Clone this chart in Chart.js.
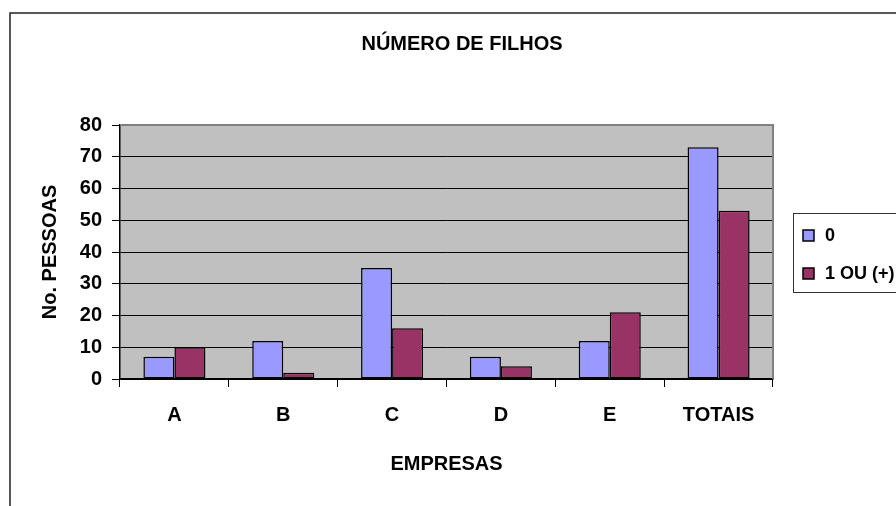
<!DOCTYPE html>
<html>
<head>
<meta charset="utf-8">
<script src="https://cdn.jsdelivr.net/npm/chart.js@4"></script>
<style>
  html, body { margin: 0; padding: 0; background: #fff; }
  #wrap { width: 896px; height: 506px; }
</style>
</head>
<body>
<div id="wrap"><canvas id="myChart" width="896" height="506"></canvas></div>
<script>
const categories = ['A', 'B', 'C', 'D', 'E', 'TOTAIS'];
const semFilhos = [7, 12, 35, 7, 12, 73];       // "0"
const comFilhos = [10, 2, 16, 4, 21, 53];       // "1 OU (+)"
const seriesNames = ['0', '1 OU (+)'];
const chartTitle = 'NÚMERO DE FILHOS';
const yTitle = 'No. PESSOAS';
const xTitle = 'EMPRESAS';
const yMin = 0, yMax = 80, yStep = 10;

const FONT = '"Liberation Sans Narrow", "Liberation Sans", Arial, sans-serif';

// plot background, frame, title and legend drawn around the chart
const excelLook = {
    id: 'excelLook',
    beforeDraw(chart) {
        const { ctx, chartArea: a } = chart;
        ctx.save();
        ctx.fillStyle = '#c0c0c0';
        ctx.fillRect(a.left, a.top, a.right - a.left, a.bottom - a.top);
        ctx.restore();
    },
    afterDraw(chart) {
        const { ctx, chartArea: a } = chart;
        ctx.save();
        // gray plot border top/right
        ctx.strokeStyle = '#808080';
        ctx.lineWidth = 2;
        ctx.beginPath();
        ctx.moveTo(a.left, a.top);
        ctx.lineTo(a.right, a.top);
        ctx.lineTo(a.right, a.bottom);
        ctx.stroke();

        // outer chart frame (cut off by the picture on right/bottom)
        ctx.strokeStyle = '#222';
        ctx.lineWidth = 1.5;
        ctx.strokeRect(10, 13, 1000, 1000);

        // title
        ctx.fillStyle = '#000';
        ctx.font = 'bold 20px ' + FONT;
        ctx.textAlign = 'center';
        ctx.textBaseline = 'middle';
        ctx.fillText(chartTitle, 462, 44);

        // legend
        ctx.strokeStyle = '#333';
        ctx.lineWidth = 1;
        ctx.fillStyle = '#fff';
        ctx.fillRect(793.5, 213.5, 200, 79);
        ctx.strokeRect(793.5, 213.5, 200, 79);
        ctx.font = 'bold 18px ' + FONT;
        ctx.textAlign = 'left';
        const rows = [235, 273];
        chart.data.datasets.forEach((ds, i) => {
            ctx.fillStyle = ds.backgroundColor;
            ctx.fillRect(803, rows[i] - 5, 11, 11);
            ctx.strokeStyle = '#000';
            ctx.lineWidth = 1.5;
            ctx.strokeRect(803, rows[i] - 5, 11, 11);
            ctx.fillStyle = '#000';
            ctx.fillText(ds.label, 825, rows[i] + 1);
        });
        ctx.restore();
    }
};

const ctx = document.getElementById('myChart');

new Chart(ctx, {
    type: 'bar',
    data: {
        labels: categories,
        datasets: [{
            label: seriesNames[0],
            data: semFilhos,
            backgroundColor: '#9999ff',
            borderColor: '#000',
            borderWidth: 1.5,
            borderSkipped: false
        }, {
            label: seriesNames[1],
            data: comFilhos,
            backgroundColor: '#993366',
            borderColor: '#000',
            borderWidth: 1.5,
            borderSkipped: false
        }]
    },
    options: {
        responsive: false,
        animation: false,
        layout: {
            padding: { left: 30, right: 123, top: 125, bottom: 27 }
        },
        datasets: {
            bar: { categoryPercentage: 0.57, barPercentage: 1.0 }
        },
        plugins: {
            legend: { display: false },
            tooltip: { enabled: false },
            title: { display: false }
        },
        scales: {
            x: {
                afterFit: s => { s.height = 100; },
                grid: {
                    offset: true,
                    drawOnChartArea: false,
                    drawTicks: true,
                    tickLength: 8,
                    color: '#000'
                },
                border: { color: '#000', width: 1.5 },
                ticks: {
                    color: '#000',
                    padding: 16,
                    font: { family: FONT, size: 20, weight: 'bold' }
                },
                title: {
                    display: true,
                    text: xTitle,
                    color: '#000',
                    padding: { top: 4, bottom: 3 },
                    font: { family: FONT, size: 20, weight: 'bold' }
                }
            },
            y: {
                min: yMin,
                max: yMax,
                afterFit: s => { s.width = 90; },
                grid: {
                    color: '#000',
                    lineWidth: 1,
                    drawTicks: true,
                    tickLength: 8
                },
                border: { color: '#000', width: 1.5 },
                ticks: {
                    stepSize: yStep,
                    color: '#000',
                    padding: 10,
                    font: { family: FONT, size: 20, weight: 'bold' }
                },
                title: {
                    display: true,
                    text: yTitle,
                    color: '#000',
                    padding: { top: 8, bottom: 4 },
                    font: { family: FONT, size: 20, weight: 'bold' }
                }
            }
        }
    },
    plugins: [excelLook]
});
</script>
</body>
</html>
